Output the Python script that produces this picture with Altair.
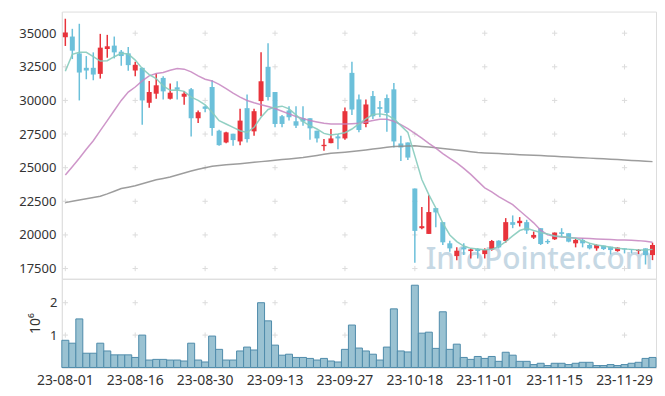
import altair as alt
import pandas as pd

dates = [
    "23-08-01","23-08-02","23-08-03","23-08-04","23-08-07","23-08-08","23-08-09","23-08-10","23-08-11","23-08-14",
    "23-08-16","23-08-17","23-08-18","23-08-21","23-08-22","23-08-23","23-08-24","23-08-25","23-08-28","23-08-29",
    "23-08-30","23-08-31","23-09-01","23-09-04","23-09-05","23-09-06","23-09-07","23-09-08","23-09-11","23-09-12",
    "23-09-13","23-09-14","23-09-15","23-09-18","23-09-19","23-09-20","23-09-21","23-09-22","23-09-25","23-09-26",
    "23-09-27","23-10-04","23-10-05","23-10-06","23-10-10","23-10-11","23-10-12","23-10-13","23-10-16","23-10-17",
    "23-10-18","23-10-19","23-10-20","23-10-23","23-10-24","23-10-25","23-10-26","23-10-27","23-10-30","23-10-31",
    "23-11-01","23-11-02","23-11-03","23-11-06","23-11-07","23-11-08","23-11-09","23-11-10","23-11-13","23-11-14",
    "23-11-15","23-11-16","23-11-17","23-11-20","23-11-21","23-11-22","23-11-23","23-11-24","23-11-27","23-11-28",
    "23-11-29","23-11-30","23-12-01","23-12-04","23-12-05",
]

opens = [
    34700,34750,33500,32425,32425,31975,33825,34075,33625,33500,
    32225,32425,29825,30500,31675,30125,30975,30275,30825,28675,
    29550,31000,27750,26875,27525,26950,29425,27700,29950,32500,
    30625,28825,29250,28450,28675,28675,27750,26600,26825,27325,
    27175,32050,30075,28250,30325,29500,30175,30825,26800,26875,
    23450,20500,20075,21995,20950,19375,18425,19075,18800,18950,
    18575,18925,19575,19550,20950,20875,20950,19800,20500,19550,
    19675,20200,20125,19375,19625,19250,19000,19200,19125,18800,
    19000,18950,18800,19000,18500,
]
closes = [
    35050,33700,32075,32225,31925,33925,34025,33575,33300,32625,
    32650,30000,30625,31125,30675,30575,30800,30500,28675,29125,
    29375,27950,26675,27625,27050,28500,27125,29200,31425,30250,
    28250,28250,28750,28125,28425,27925,27175,26700,27175,27175,
    29200,29325,27800,29700,28825,29375,29075,26950,26500,25750,
    20300,20650,21700,21675,19450,19000,18825,18925,18925,18800,
    18875,19550,19075,20950,20750,21050,20325,20000,19325,19450,
    20175,20075,19500,19625,19375,19000,19250,18950,18875,19050,
    18925,18875,18875,18500,19250,
]
highs = [
    36075,35325,35700,33300,33575,34950,34875,34750,33750,33975,
    32875,32450,31450,32000,31800,31250,31425,30700,30925,29250,
    29625,31500,27825,27675,27525,29375,30450,29375,33575,34250,
    30625,28925,29575,29575,29575,28675,27750,27125,27875,27500,
    29475,32875,30450,30075,30700,29950,30450,31300,27375,26875,
    23450,22075,22950,22000,20950,19575,19075,19375,19000,19000,
    19000,19625,19600,21250,21450,21325,21125,20250,20500,19675,
    20175,20500,20125,19750,19750,19375,19300,19200,19125,19075,
    19000,18950,18950,19000,19425,
]
lows = [
    34050,33075,30000,31575,31500,31625,33175,33125,32575,32200,
    31800,28200,29450,30125,30075,30075,30075,29675,27325,28325,
    29125,27375,26625,26825,26625,26675,26875,27375,28825,30000,
    28000,28000,28500,27950,28125,27075,26875,26250,26825,26375,
    27075,28925,27625,28000,28625,28750,27675,26500,25500,25575,
    17925,20425,20075,20575,19250,18750,18125,18500,18250,18250,
    18250,18825,19000,19425,20500,20625,20075,19700,19250,19325,
    19625,19825,19450,19075,19075,18925,18825,18875,18550,18750,
    18625,18625,18575,17800,18125,
]
volumes = [
    0.84,0.75,1.50,0.44,0.44,0.75,0.51,0.39,0.39,0.39,
    0.31,1.00,0.23,0.25,0.25,0.23,0.23,0.20,0.75,0.23,
    0.17,0.97,0.56,0.23,0.23,0.51,0.63,0.54,2.00,1.44,
    0.69,0.38,0.41,0.31,0.31,0.28,0.23,0.28,0.20,0.17,
    0.56,1.31,0.60,0.51,0.41,0.23,0.63,1.81,0.51,0.48,
    2.54,1.06,1.09,0.59,1.72,0.56,0.72,0.31,0.25,0.34,
    0.28,0.34,0.19,0.47,0.38,0.19,0.19,0.09,0.13,0.06,
    0.13,0.13,0.09,0.13,0.16,0.16,0.06,0.06,0.09,0.06,
    0.09,0.13,0.16,0.28,0.31,
]
ma5 = [
    32175,33425,33575,33575,33250,32925,32950,33250,33500,33450,
    33000,32375,31925,31625,31075,30750,30775,30675,30250,30000,
    29675,29125,28500,28250,28000,27750,27625,28000,28750,29325,
    29500,29575,29375,28925,28425,28125,27875,27550,27425,27500,
    27600,27875,28250,28625,28950,29000,28925,28625,28125,27625,
    25875,24125,23000,22000,20875,20000,19500,19175,19000,18950,
    18900,18925,19125,19500,19925,20325,20500,20325,20175,20075,
    19925,19875,19800,19750,19575,19375,19250,19175,19075,19000,
    18950,18925,18875,18875,18925,
]
ma20 = [
    24450,25075,25700,26375,27000,27750,28500,29250,30000,30625,
    31000,31450,31825,32000,32075,32250,32375,32325,32125,31825,
    31575,31450,31200,30875,30550,30250,30000,29825,29675,29550,
    29400,29200,29000,28800,28650,28500,28400,28300,28250,28250,
    28250,28275,28300,28400,28500,28600,28600,28450,28200,27900,
    27550,27200,26800,26450,26050,25700,25350,24950,24500,24000,
    23500,23200,22850,22550,22250,21800,21350,20900,20350,20000,
    19900,19850,19800,19775,19750,19725,19700,19675,19650,19625,
    19625,19600,19575,19525,19450,
]
ma120 = [
    22400,22500,22600,22690,22780,22875,23050,23250,23450,23550,
    23650,23800,23950,24100,24200,24300,24450,24600,24750,24880,
    25000,25100,25160,25210,25250,25300,25350,25400,25450,25500,
    25550,25600,25650,25700,25750,25830,25910,25990,26070,26110,
    26150,26200,26260,26320,26390,26450,26510,26570,26600,26620,
    26630,26580,26530,26480,26430,26370,26310,26250,26190,26130,
    26100,26075,26050,26020,25990,25960,25940,25920,25900,25875,
    25850,25820,25790,25760,25730,25710,25690,25660,25630,25600,
    25570,25540,25510,25480,25450,
]

price_ticks = [17500, 20000, 22500, 25000, 27500, 30000, 32500, 35000]
vol_ticks = [1000000, 2000000]
label_dates = dates[::10]
watermark = "InfoPointer.com"

df = pd.DataFrame({
    "date": dates, "open": opens, "close": closes, "high": highs, "low": lows,
    "volume": [v * 1e6 for v in volumes],
    "ma5": ma5, "ma20": ma20, "ma120": ma120,
})
df["dir"] = ["up" if c >= o else "down" for o, c in zip(opens, closes)]

FONT = "Noto Sans"
xscale = alt.Scale(domain=dates, paddingInner=0, paddingOuter=0)
color = alt.Color("dir:N", scale=alt.Scale(domain=["up", "down"], range=["#e8333b", "#6cc0da"]), legend=None)

x_up = alt.X("date:O", scale=xscale, axis=None)
pscale = alt.Scale(domain=[16740, 36607], nice=False, zero=False)
y_axis = alt.Axis(values=price_ticks, format="d", grid=False, ticks=False, domainColor="#e0e0e0",
                  labelPadding=6, labelFontSize=13, labelColor="#333333", labelFont=FONT, title=None)

base = alt.Chart(df)

grid_up = pd.DataFrame([(d, v) for d in label_dates for v in price_ticks], columns=["date", "val"])
crosses_up = alt.Chart(grid_up).mark_point(
    shape="M-1,0H1M0,-1V1", size=28, filled=False, color="#dcdcdc", strokeWidth=1, opacity=1
).encode(x=x_up, y=alt.Y("val:Q", scale=pscale, axis=y_axis))

wm = alt.Chart(pd.DataFrame({"t": [watermark]})).mark_text(
    font=FONT, fontSize=30, fontWeight=500, color="#b3ccdb", opacity=0.75, align="center",
    baseline="alphabetic"
).encode(text="t:N", x=alt.value(479), y=alt.value(258))

wicks = base.mark_rule(strokeWidth=1.5).encode(
    x=x_up, y=alt.Y("low:Q", scale=pscale, axis=y_axis), y2="high:Q", color=color)
bodies = base.mark_bar(size=5).encode(
    x=x_up, y=alt.Y("open:Q", scale=pscale, axis=y_axis), y2="close:Q", color=color)

def ma_line(field, col, op):
    return base.mark_line(strokeWidth=1.5, color=col, opacity=op).encode(
        x=x_up, y=alt.Y(f"{field}:Q", scale=pscale, axis=y_axis))

upper = alt.layer(
    wm, crosses_up, wicks, bodies,
    ma_line("ma120", "#8c8c8c", 0.85),
    ma_line("ma20", "#c584c0", 0.85),
    ma_line("ma5", "#86cbbd", 0.9),
).properties(width=596, height=268)

x_low = alt.X("date:O", scale=xscale, axis=alt.Axis(
    values=label_dates, labelAngle=0, ticks=False, grid=False, domainColor="#e0e0e0",
    labelPadding=6, labelFontSize=14, labelColor="#333333", labelFont=FONT, title=None))
vscale = alt.Scale(domain=[0, 2740000], nice=False)
v_axis = alt.Axis(values=vol_ticks, labelExpr="datum.value / 1000000", grid=False, ticks=False,
                  domainColor="#e0e0e0", labelPadding=5, labelFontSize=13, labelColor="#333333",
                  labelFont=FONT, title="10⁶", titleFont=FONT, titleFontSize=14,
                  titleFontWeight="normal", titleColor="#333333", titlePadding=7)

grid_low = pd.DataFrame([(d, v) for d in label_dates for v in vol_ticks], columns=["date", "val"])
crosses_low = alt.Chart(grid_low).mark_point(
    shape="M-1,0H1M0,-1V1", size=28, filled=False, color="#dcdcdc", strokeWidth=1, opacity=1
).encode(x=x_low, y=alt.Y("val:Q", scale=vscale, axis=v_axis))

vbars = base.mark_bar(color="#9ac2d2", stroke="#4f8cab", strokeWidth=1, opacity=1).encode(
    x=x_low, y=alt.Y("volume:Q", scale=vscale, axis=v_axis))

lower = alt.layer(crosses_low, vbars).properties(width=596, height=89)

chart = alt.vconcat(upper, lower, spacing=0, bounds="flush").properties(
    padding={"left": 10, "top": 2, "right": 0, "bottom": 2}
).configure_view(stroke="#e6e6e6").configure(background="white")

chart.save("out.html", embed_options={"renderer": "svg", "actions": False})
